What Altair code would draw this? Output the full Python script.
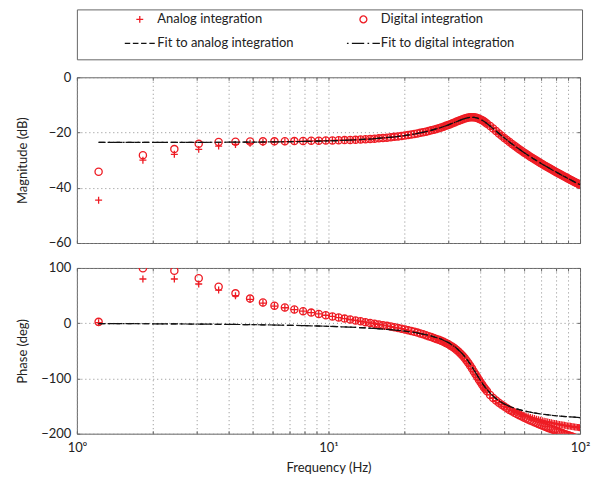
import altair as alt
import pandas as pd

# ---------------- data ----------------
freq = [1.22, 1.83, 2.44, 3.05, 3.66, 4.27, 4.88, 5.49, 6.10, 6.71, 7.32, 7.93, 8.54, 9.15, 9.76,
        10.37, 10.98, 11.59, 12.20, 12.81, 13.42, 14.03, 14.64, 15.25, 15.86, 16.47, 17.08, 17.69,
        18.30, 18.91, 19.52, 20.13, 20.74, 21.35, 21.96, 22.57, 23.18, 23.79, 24.40, 25.01, 25.62,
        26.23, 26.84, 27.45, 28.06, 28.67, 29.28, 29.89, 30.50, 31.11, 31.72, 32.33, 32.94, 33.55,
        34.16, 34.77, 35.38, 35.99, 36.60, 37.21, 37.82, 38.43, 39.04, 39.65, 40.26, 40.87, 41.48,
        42.09, 42.70, 43.92, 45.14, 46.36, 47.58, 48.80, 50.02, 51.24, 52.46, 53.68, 54.90, 56.12,
        57.34, 58.56, 59.78, 61.00, 62.22, 63.44, 64.66, 65.88, 67.10, 68.32, 69.54, 70.76, 71.98,
        73.20, 74.42, 75.64, 76.86, 78.08, 79.30, 80.52, 81.74, 82.96, 84.18, 85.40, 86.62, 87.84,
        89.06, 90.28, 91.50, 92.72, 93.94, 95.16, 96.38, 97.60, 98.82, 99.43]

mag_digital = [-34.2, -28.2, -26.0, -24.1, -23.4, -23.3, -23.25, -23.2, -23.2, -23.15, -23.1, -23.05,
               -23.0, -22.95, -22.9, -22.85, -22.8, -22.75, -22.7, -22.65, -22.55, -22.45, -22.34,
               -22.23, -22.11, -21.98, -21.85, -21.72, -21.57, -21.41, -21.26, -21.09, -20.91, -20.73,
               -20.55, -20.34, -20.12, -19.91, -19.69, -19.48, -19.22, -18.96, -18.7, -18.44, -18.18,
               -17.88, -17.58, -17.28, -16.98, -16.66, -16.35, -16.05, -15.76, -15.47, -15.2, -14.96,
               -14.76, -14.59, -14.51, -14.47, -14.5, -14.6, -14.75, -14.98, -15.26, -15.59, -15.96,
               -16.35, -16.79, -17.66, -18.56, -19.45, -20.32, -21.15, -21.96, -22.71, -23.44, -24.14,
               -24.8, -25.45, -26.03, -26.61, -27.2, -27.72, -28.22, -28.73, -29.24, -29.7, -30.14,
               -30.58, -31.01, -31.42, -31.81, -32.2, -32.59, -32.97, -33.32, -33.67, -34.03, -34.37,
               -34.69, -35.01, -35.33, -35.64, -35.93, -36.22, -36.51, -36.8, -37.08, -37.35, -37.62,
               -37.89, -38.15, -38.4, -38.65, -38.78]

mag_analog = [-44.5, -30.0, -27.9, -26.1, -24.9, -24.3, -23.9, -23.6, -23.4, -23.3, -23.2, -23.1,
              -23.05, -22.95, -22.9, -22.85, -22.8, -22.75, -22.7, -22.65, -22.55, -22.45, -22.34,
              -22.23, -22.11, -21.98, -21.85, -21.72, -21.57, -21.41, -21.26, -21.09, -20.91, -20.73,
              -20.55, -20.34, -20.12, -19.91, -19.69, -19.48, -19.22, -18.96, -18.7, -18.44, -18.18,
              -17.88, -17.58, -17.28, -16.98, -16.66, -16.35, -16.05, -15.76, -15.47, -15.2, -14.96,
              -14.76, -14.59, -14.51, -14.47, -14.5, -14.6, -14.75, -14.98, -15.26, -15.59, -15.96,
              -16.35, -16.79, -17.66, -18.56, -19.45, -20.32, -21.15, -21.96, -22.71, -23.44, -24.14,
              -24.8, -25.45, -26.03, -26.61, -27.2, -27.72, -28.22, -28.73, -29.24, -29.7, -30.14,
              -30.58, -31.01, -31.42, -31.81, -32.2, -32.59, -32.97, -33.32, -33.67, -34.03, -34.37,
              -34.69, -35.01, -35.33, -35.64, -35.93, -36.22, -36.51, -36.8, -37.08, -37.35, -37.62,
              -37.89, -38.15, -38.4, -38.65, -38.78]

phase_digital = [2.4, 99.4, 95.0, 81.3, 66.0, 54.0, 44.5, 37.5, 31.8, 28.5, 24.9, 21.8, 19.2, 16.7,
                 14.4, 12.2, 10.2, 8.3, 6.6, 5.0, 3.4, 1.9, 0.5, -0.8, -2.2, -3.5, -4.8, -6.1, -7.4,
                 -8.7, -10.0, -11.4, -12.8, -14.2, -15.6, -17.0, -18.5, -20.0, -21.6, -23.5, -25.2,
                 -26.8, -28.5, -30.0, -31.6, -33.6, -35.7, -37.7, -40.2, -42.8, -45.4, -48.5, -51.9,
                 -55.3, -59.0, -63.1, -67.6, -72.2, -77.2, -82.2, -87.3, -92.4, -97.5, -102.4, -107.1,
                 -111.6, -115.8, -119.7, -123.0, -129.8, -135.2, -140.0, -144.0, -147.8, -151.0,
                 -154.0, -157.0, -159.5, -162.0, -164.5, -166.5, -168.5, -170.5, -172.5, -174.3,
                 -176.0, -177.7, -179.3, -180.8, -182.3, -183.7, -185.1, -186.5, -187.8, -189.1,
                 -190.4, -191.6, -192.8, -194.0, -195.1, -196.2, -197.3, -198.4, -199.4, -200.4,
                 -201.4, -202.4, -203.4, -204.3, -205.2, -206.1, -207.0, -207.9, -208.8, -209.6, -210.0]

phase_analog = [1.0, 80.0, 80.0, 71.0, 60.0, 49.7, 43.0, 36.5, 31.0, 28.0, 24.5, 21.8, 19.2, 16.7,
                14.4, 12.2, 10.2, 8.3, 6.6, 5.0, 3.4, 1.9, 0.5, -0.8, -2.2, -3.5, -4.8, -6.1, -7.4,
                -8.7, -10.0, -11.4, -12.8, -14.2, -15.6, -17.0, -18.5, -20.0, -21.6, -23.5, -25.2,
                -26.8, -28.5, -30.0, -31.6, -33.6, -35.7, -37.7, -40.2, -42.8, -45.4, -48.5, -51.9,
                -55.3, -59.0, -63.1, -67.6, -72.2, -77.2, -82.2, -87.3, -92.4, -97.5, -102.4, -107.1,
                -111.6, -115.8, -119.7, -123.0, -129.8, -135.2, -140.0, -144.0, -147.5, -150.5,
                -153.0, -155.5, -158.0, -160.0, -162.0, -163.5, -165.0, -166.5, -168.0, -169.3,
                -170.5, -171.6, -172.7, -173.7, -174.7, -175.6, -176.5, -177.3, -178.1, -178.9,
                -179.6, -180.3, -181.0, -181.6, -182.2, -182.8, -183.4, -183.9, -184.4, -184.9,
                -185.4, -185.9, -186.3, -186.7, -187.1, -187.5, -187.9, -188.3, -188.6, -189.0, -189.2]

fit_freq = [1.22, 1.5, 2, 3, 4, 5, 6, 8, 10, 12, 15, 18, 20, 22, 25, 28, 30, 32, 34, 35, 36, 37, 38,
            39, 40, 41, 42, 44, 46, 48, 50, 53, 56, 60, 65, 70, 75, 80, 85, 90, 95, 100]
fit_mag_analog = [-23.59, -23.59, -23.58, -23.55, -23.51, -23.46, -23.40, -23.24, -23.03, -22.78,
                  -22.28, -21.65, -21.13, -20.54, -19.48, -18.20, -17.23, -16.21, -15.26, -14.87,
                  -14.59, -14.46, -14.51, -14.73, -15.12, -15.66, -16.29, -17.72, -19.19, -20.62,
                  -21.95, -23.77, -25.39, -27.30, -29.38, -31.18, -32.78, -34.23, -35.54, -36.74,
                  -37.86, -38.90]
fit_mag_digital = [-23.59, -23.59, -23.58, -23.55, -23.51, -23.46, -23.40, -23.24, -23.03, -22.78,
                   -22.28, -21.65, -21.13, -20.54, -19.48, -18.20, -17.23, -16.21, -15.26, -14.87,
                   -14.59, -14.46, -14.51, -14.73, -15.12, -15.66, -16.29, -17.72, -19.19, -20.62,
                   -21.95, -23.77, -25.39, -27.30, -29.38, -31.18, -32.78, -34.23, -35.54, -36.74,
                   -37.86, -38.90]
fit_phase_analog = [-0.64, -0.79, -1.06, -1.59, -2.13, -2.68, -3.24, -4.40, -5.64, -6.98, -9.25,
                    -11.98, -14.16, -16.74, -21.72, -28.7, -35.1, -43.6, -54.9, -61.7, -69.3, -77.4,
                    -85.8, -94.2, -102.2, -109.6, -116.2, -127.1, -135.3, -141.4, -146.2, -151.4,
                    -155.2, -158.9, -162.1, -164.4, -166.1, -167.5, -168.6, -169.5, -170.2, -170.9]
fit_phase_digital = [-0.64, -0.79, -1.06, -1.59, -2.13, -2.68, -3.24, -4.40, -5.64, -6.98, -9.25,
                     -11.98, -14.16, -16.74, -21.72, -28.7, -35.1, -43.6, -54.9, -61.7, -69.3, -77.4,
                     -85.8, -94.2, -102.2, -109.6, -116.2, -127.1, -135.3, -141.4, -146.2, -151.4,
                     -155.2, -158.9, -162.1, -164.4, -166.1, -167.5, -168.6, -169.5, -170.2, -170.9]

legend_labels = ["Analog integration", "Digital integration",
                 "Fit to analog integration", "Fit to digital integration"]

x_tick_values = [1, 2, 3, 4, 5, 6, 7, 8, 9, 10, 20, 30, 40, 50, 60, 70, 80, 90, 100]
x_label_values = [1, 10, 100]
x_tick_labels = ["10\u2070", "10\u00b9", "10\u00b2"]
mag_ticks = [-60, -40, -20, 0]
phase_ticks = [-200, -100, 0, 100]

# ---------------- style ----------------
RED = "#ee1c24"
BLACK = "#111111"
FRAME = "#666666"
TEXT = "#222222"
FONT = "Lato"
PLUS = "M-1,0H1M0,-1V1"
LEG_PLUS = "M-0.21,0H0.21M0,-0.21V0.21"
LEG_CIRCLE = "M0.21,0A0.21,0.21,0,1,1,-0.21,0A0.21,0.21,0,1,1,0.21,0Z"
LEG_DASH = "M-0.91,0H-0.58M-0.42,0H-0.08M0.08,0H0.41M0.58,0H0.91"
LEG_DASHDOT = "M-1,0H-0.9M-0.7,0H0.05M0.25,0H0.35M0.55,0H1"

W, H = 504, 166

markers = pd.DataFrame({"freq": freq, "mag_a": mag_analog, "mag_d": mag_digital,
                        "ph_a": phase_analog, "ph_d": phase_digital})
fits = pd.DataFrame({"freq": fit_freq, "mag_a": fit_mag_analog, "mag_d": fit_mag_digital,
                     "ph_a": fit_phase_analog, "ph_d": fit_phase_digital})

x_scale = alt.Scale(type="log", domain=[1, 100], nice=False)

label_expr = " : ".join(f"datum.value == {v} ? '{t}'" for v, t in zip(x_label_values, x_tick_labels)) + " : ''"


def panel(col_a, col_d, ydomain, yticks, ytitle, bottom):
    y_scale = alt.Scale(domain=ydomain, nice=False, zero=False)
    if bottom:
        x_axis = alt.Axis(orient="bottom", values=x_tick_values, labelExpr=label_expr,
                          labelFlush=False, labelOverlap=False, labelPadding=8,
                          title="Frequency (Hz)", titlePadding=7, grid=True, tickSize=3,
                          offset=-3, domain=False)
    else:
        x_axis = alt.Axis(orient="bottom", values=x_tick_values, labels=False, title=None,
                          grid=True, tickSize=3, offset=-3, domain=False)
    y_axis = alt.Axis(orient="left", values=yticks, grid=True, tickSize=3, offset=-3,
                      domain=False, labelPadding=6, labelOverlap=False, title=ytitle,
                      titleX=-50)
    top_axis = alt.Axis(orient="top", values=x_tick_values, labels=False, grid=False,
                        tickSize=3, offset=-3, domain=False, title=None)
    right_axis = alt.Axis(orient="right", values=yticks, labels=False, grid=False,
                          tickSize=3, offset=-3, domain=False, title=None)

    analog = alt.Chart(markers).mark_point(shape=PLUS, size=49, filled=False, strokeWidth=1.3,
                                           color=RED, clip=True, opacity=1).encode(
        x=alt.X("freq:Q", scale=x_scale, axis=x_axis),
        y=alt.Y(f"{col_a}:Q", scale=y_scale, axis=y_axis))
    digital = alt.Chart(markers).mark_point(shape="circle", size=52, filled=False, strokeWidth=1.3,
                                            color=RED, clip=True, opacity=1).encode(
        x=alt.X("freq:Q", scale=x_scale, axis=None),
        y=alt.Y(f"{col_d}:Q", scale=y_scale, axis=None))
    fit_a = alt.Chart(fits).mark_line(color=BLACK, strokeWidth=1.2, strokeDash=[6, 3],
                                      clip=True).encode(
        x=alt.X("freq:Q", scale=x_scale, axis=None),
        y=alt.Y(f"{col_a}:Q", scale=y_scale, axis=None))
    fit_d = alt.Chart(fits).mark_line(color=BLACK, strokeWidth=1.2, strokeDash=[7, 3, 1.5, 3],
                                      clip=True).encode(
        x=alt.X("freq:Q", scale=x_scale, axis=top_axis),
        y=alt.Y(f"{col_d}:Q", scale=y_scale, axis=right_axis))
    return alt.layer(analog, digital, fit_a, fit_d).resolve_axis(
        x="independent", y="independent").properties(width=W, height=H)


mag_panel = panel("mag_a", "mag_d", [-60, 0], mag_ticks, "Magnitude (dB)", False)
phase_panel = panel("ph_a", "ph_d", [-200, 100], phase_ticks, "Phase (deg)", True)

legend_df = pd.DataFrame({"series": legend_labels})
leg = alt.Legend(title=None, orient="none", legendX=45.5, legendY=3, columns=2,
                 direction="horizontal", columnPadding=52, rowPadding=10, symbolSize=1089,
                 symbolStrokeWidth=1.3, clipHeight=14, labelFont=FONT, labelFontSize=13,
                 labelColor=TEXT, labelOffset=0, padding=0, labelLimit=400, symbolOpacity=1)
legend_panel = alt.Chart(legend_df).transform_filter("false").mark_point(
    filled=False, strokeWidth=1.3).encode(
    x=alt.X("series:N", axis=None),
    y=alt.Y("series:N", axis=None),
    shape=alt.Shape("series:N", scale=alt.Scale(domain=legend_labels,
                                                range=[LEG_PLUS, LEG_CIRCLE, LEG_DASH, LEG_DASHDOT]),
                    legend=leg),
    color=alt.Color("series:N", scale=alt.Scale(domain=legend_labels,
                                                range=[RED, RED, BLACK, BLACK]),
                    legend=leg),
).properties(width=506, height=50)

chart = alt.vconcat(legend_panel, mag_panel, phase_panel, spacing=10).resolve_legend(
    color="independent", shape="independent").properties(
    padding={"left": 8, "top": 0, "right": 4, "bottom": 4}
).configure_view(stroke=FRAME, strokeWidth=1).configure_axis(
    labelFont=FONT, labelFontSize=13, labelColor=TEXT, titleFont=FONT, titleFontSize=13,
    titleColor=TEXT, titleFontWeight="normal", tickColor=FRAME, gridColor="#8c8c8c",
    gridDash=[1, 3], gridOpacity=1, gridWidth=1)

chart.save("out.html", embed_options={"renderer": "svg", "actions": False})
